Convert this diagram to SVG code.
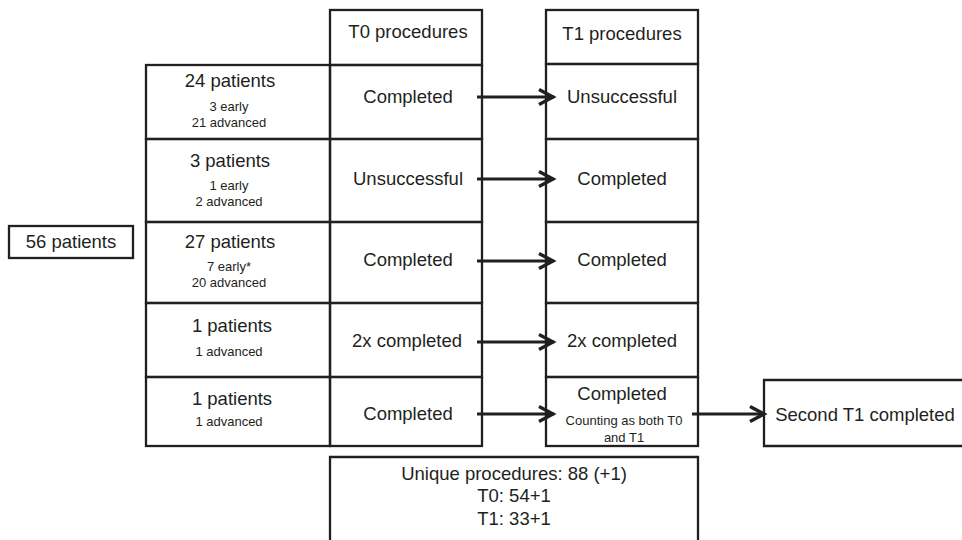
<svg xmlns="http://www.w3.org/2000/svg" width="962" height="540" viewBox="0 0 962 540">
<defs>
<style>
.box{fill:none;stroke:#231f20;stroke-width:2.3}
.t{font-family:"Liberation Sans",Arial,sans-serif;font-size:18.5px;fill:#231f20;text-anchor:middle}
.s{font-family:"Liberation Sans",Arial,sans-serif;font-size:13px;fill:#231f20;text-anchor:middle}
.arr{fill:none;stroke:#231f20;stroke-width:3;marker-end:url(#ah)}
</style>
<marker id="ah" markerUnits="userSpaceOnUse" viewBox="0 0 20 20" refX="17" refY="10" markerWidth="20" markerHeight="20" orient="auto">
<path d="M2,2.5 L16,10 L2,17.5" fill="none" stroke="#231f20" stroke-width="3.4" stroke-linejoin="miter"/>
</marker>
</defs>
<rect width="962" height="540" fill="#ffffff"/>

<g id="total">
<rect class="box" x="9" y="226" width="124" height="32"/>
<text class="t" x="71" y="248">56 patients</text>
</g>

<g id="t0-header">
<rect class="box" x="330" y="10" width="152" height="55"/>
<text class="t" x="408" y="38">T0 procedures</text>
</g>
<g id="t1-header">
<rect class="box" x="546" y="10" width="152" height="54"/>
<text class="t" x="622" y="40">T1 procedures</text>
</g>

<g id="row1">
<rect class="box" x="146" y="65" width="184" height="74"/>
<text class="t" x="230" y="87">24 patients</text>
<text class="s" x="229" y="111">3 early</text>
<text class="s" x="229" y="127">21 advanced</text>
<rect class="box" x="330" y="65" width="152" height="74"/>
<text class="t" x="408" y="103">Completed</text>
<rect class="box" x="546" y="64" width="152" height="75"/>
<text class="t" x="622" y="103">Unsuccessful</text>
</g>

<g id="row2">
<rect class="box" x="146" y="139" width="184" height="83"/>
<text class="t" x="230" y="167">3 patients</text>
<text class="s" x="229" y="190">1 early</text>
<text class="s" x="229" y="206">2 advanced</text>
<rect class="box" x="330" y="139" width="152" height="83"/>
<text class="t" x="408" y="185">Unsuccessful</text>
<rect class="box" x="546" y="139" width="152" height="83"/>
<text class="t" x="622" y="185">Completed</text>
</g>

<g id="row3">
<rect class="box" x="146" y="222" width="184" height="81"/>
<text class="t" x="230" y="248">27 patients</text>
<text class="s" x="229" y="271">7 early*</text>
<text class="s" x="229" y="287">20 advanced</text>
<rect class="box" x="330" y="222" width="152" height="81"/>
<text class="t" x="408" y="266">Completed</text>
<rect class="box" x="546" y="222" width="152" height="81"/>
<text class="t" x="622" y="266">Completed</text>
</g>

<g id="row4">
<rect class="box" x="146" y="303" width="184" height="74"/>
<text class="t" x="232" y="332">1 patients</text>
<text class="s" x="229" y="356">1 advanced</text>
<rect class="box" x="330" y="303" width="152" height="74"/>
<text class="t" x="407" y="347">2x completed</text>
<rect class="box" x="546" y="303" width="152" height="74"/>
<text class="t" x="622" y="347">2x completed</text>
</g>

<g id="row5">
<rect class="box" x="146" y="377" width="184" height="69"/>
<text class="t" x="232" y="405">1 patients</text>
<text class="s" x="229" y="426">1 advanced</text>
<rect class="box" x="330" y="377" width="152" height="69"/>
<text class="t" x="408" y="420">Completed</text>
<rect class="box" x="546" y="377" width="152" height="69"/>
<text class="t" x="622" y="400">Completed</text>
<text class="s" x="624" y="425">Counting as both T0</text>
<text class="s" x="624" y="442">and T1</text>
</g>

<g id="second-t1">
<path class="box" d="M964,380 H764 V446 H964"/>
<text class="t" x="865" y="421">Second T1 completed</text>
</g>

<g id="summary">
<path class="box" d="M330,542 V457 H698 V542"/>
<text class="t" x="514" y="480">Unique procedures: 88 (+1)</text>
<text class="t" x="514" y="502">T0: 54+1</text>
<text class="t" x="514" y="525">T1: 33+1</text>
</g>

<g id="connectors">
<line class="arr" x1="477" y1="97" x2="554" y2="97"/>
<line class="arr" x1="477" y1="179" x2="554" y2="179"/>
<line class="arr" x1="477" y1="261" x2="554" y2="261"/>
<line class="arr" x1="477" y1="342" x2="554" y2="342"/>
<line class="arr" x1="477" y1="414" x2="554" y2="414"/>
<line class="arr" x1="692" y1="414" x2="765" y2="414"/>
</g>
</svg>
